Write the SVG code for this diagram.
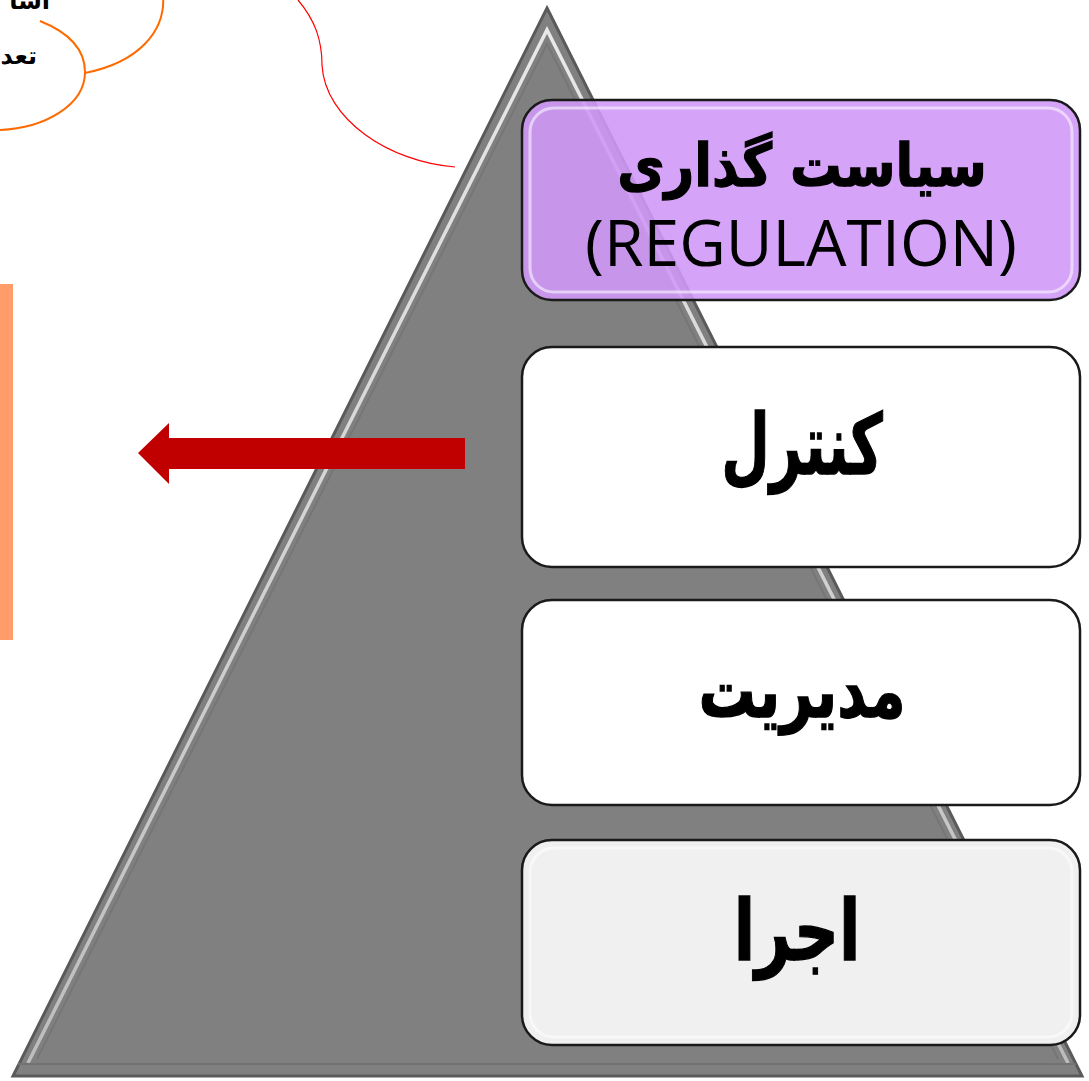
<svg xmlns="http://www.w3.org/2000/svg" width="1089" height="1081" viewBox="0 0 1089 1081">
  <style>
    .box { stroke: #1a1a1a; stroke-width: 2.5; }
    .gloss { fill: none; stroke: #ffffff; stroke-opacity: 0.55; stroke-width: 3; }
    .fa { font-family: "DejaVu Sans", "Noto Sans", sans-serif; font-weight: bold; fill: #000; stroke: #000; stroke-width: 1.2; text-anchor: middle; direction: rtl; }
    .en { font-family: "Open Sans", "Liberation Sans", sans-serif; fill: #000; text-anchor: middle; }
  </style>
  <defs>
    <linearGradient id="bevel" x1="0" y1="0" x2="0" y2="1">
      <stop offset="0" stop-color="#e8e8e8"/>
      <stop offset="1" stop-color="#bdbdbd"/>
    </linearGradient>
  </defs>
  <rect width="1089" height="1081" fill="#ffffff"/>

  <!-- decorative callouts at top-left -->
  <g id="callouts" fill="none">
    <path d="M163,-5 C166,30 140,62 85,73" stroke="#ff6a00" stroke-width="2"/>
    <path d="M40,21 C70,33 85,50 85,72 C85,105 45,128 0,130" stroke="#ff6a00" stroke-width="2"/>
    <path d="M298,0 C315,20 322,40 322,65 C325,120 390,162 455,167" stroke="#ff0000" stroke-width="1.2"/>
    <text x="50" y="9" font-family="DejaVu Sans, sans-serif" font-weight="bold" font-size="24" text-anchor="end" fill="#000">اشا</text>
    <text x="37" y="64" font-family="DejaVu Sans, sans-serif" font-weight="bold" font-size="24" text-anchor="end" fill="#000">تعد</text>
  </g>

  <!-- orange side bar -->
  <rect id="sidebar" x="0" y="284" width="13" height="356" fill="#ff9c69"/>

  <!-- pyramid -->
  <g id="pyramid">
    <polygon points="547,8 1082,1076 13,1076" fill="#808080" stroke="#5a5a5a" stroke-width="3"/>
    <polyline points="28,1063 547,30 1068,1063" fill="none" stroke="url(#bevel)" stroke-width="3.5"/>
    <polyline points="37,1059 547,44 1058,1059" fill="none" stroke="#707070" stroke-width="2" stroke-opacity="0.6"/>
    <line x1="18" y1="1064" x2="1076" y2="1064" stroke="#737373" stroke-width="2"/>
  </g>

  <!-- connector arrow -->
  <g id="connectors">
    <polygon points="465,438 169,438 169,423 138,453 169,484 169,469 465,469" fill="#c00000"/>
  </g>

  <!-- boxes -->
  <g id="node-regulation">
    <rect class="box" x="522" y="100" width="558" height="200" rx="30" fill="rgb(208,152,247)" fill-opacity="0.89"/>
    <rect class="gloss" x="530" y="108" width="542" height="184" rx="24"/>
    <text class="fa" transform="translate(802,186) scale(0.94,1.08)" font-size="55">سیاست گذاری</text>
    <text class="en" x="801" y="266" font-size="64" textLength="432" lengthAdjust="spacingAndGlyphs">(REGULATION)</text>
  </g>

  <g id="node-control">
    <rect class="box" x="522" y="347" width="558" height="220" rx="30" fill="#ffffff"/>
    <rect class="gloss" x="530" y="355" width="542" height="204" rx="24" stroke="#e6e6e6"/>
    <text class="fa" transform="translate(802,474) scale(0.7,1.05)" font-size="80">کنترل</text>
  </g>

  <g id="node-management">
    <rect class="box" x="522" y="600" width="558" height="205" rx="30" fill="#ffffff"/>
    <rect class="gloss" x="530" y="608" width="542" height="189" rx="24" stroke="#e6e6e6"/>
    <text class="fa" transform="translate(802,717) scale(0.84,1.1)" font-size="68">مدیریت</text>
  </g>

  <g id="node-execution">
    <rect class="box" x="522" y="840" width="558" height="205" rx="30" fill="#f0f0f0"/>
    <rect class="gloss" x="530" y="848" width="542" height="189" rx="24"/>
    <text class="fa" transform="translate(797,960) scale(0.78,1.05)" font-size="80">اجرا</text>
  </g>
</svg>
